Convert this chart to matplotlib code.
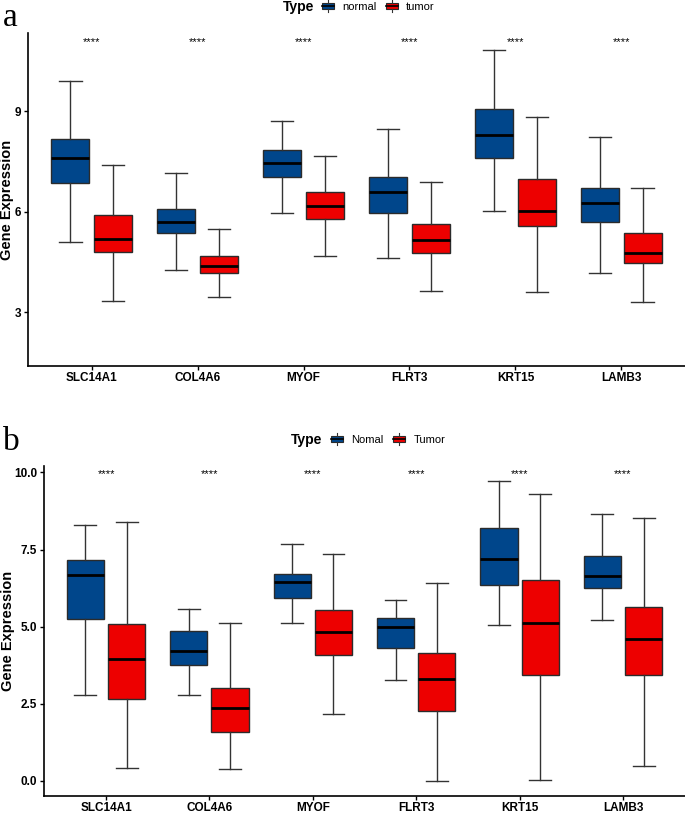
import matplotlib
matplotlib.use("Agg")
import matplotlib.pyplot as plt
from matplotlib.legend_handler import HandlerBase
from matplotlib.patches import Rectangle, Patch
from matplotlib.lines import Line2D

plt.rcParams['font.family'] = ['Liberation Sans', 'DejaVu Sans']

genes = ["SLC14A1", "COL4A6", "MYOF", "FLRT3", "KRT15", "LAMB3"]
blue = "#00468B"
red = "#ED0000"

# panel a: whislo, q1, median, q3, whishi
a_normal = [
    [5.08, 6.86, 7.59, 8.16, 9.90],
    [4.25, 5.35, 5.69, 6.07, 7.14],
    [5.96, 7.04, 7.45, 7.84, 8.70],
    [4.62, 5.96, 6.58, 7.02, 8.46],
    [6.01, 7.61, 8.30, 9.05, 10.81],
    [4.16, 5.68, 6.26, 6.69, 8.22],
]
a_tumor = [
    [3.34, 4.78, 5.19, 5.90, 7.38],
    [3.46, 4.17, 4.38, 4.68, 5.47],
    [4.66, 5.79, 6.16, 6.58, 7.67],
    [3.63, 4.76, 5.16, 5.64, 6.89],
    [3.60, 5.58, 6.01, 6.97, 8.81],
    [3.29, 4.47, 4.76, 5.37, 6.69],
]
# panel b
b_normal = [
    [2.78, 5.25, 6.66, 7.17, 8.31],
    [2.77, 3.75, 4.20, 4.86, 5.58],
    [5.13, 5.93, 6.44, 6.69, 7.69],
    [3.25, 4.30, 4.97, 5.28, 5.87],
    [5.05, 6.34, 7.18, 8.21, 9.73],
    [5.22, 6.24, 6.64, 7.29, 8.64],
]
b_tumor = [
    [0.40, 2.64, 3.96, 5.07, 8.38],
    [0.37, 1.58, 2.36, 3.00, 5.13],
    [2.16, 4.06, 4.83, 5.53, 7.35],
    [0.00, 2.25, 3.30, 4.14, 6.40],
    [0.01, 3.44, 5.11, 6.50, 9.30],
    [0.48, 3.42, 4.61, 5.64, 8.51],
]
a_star_y = 11.06
b_star_y = 9.94
a_ylim = (1.39, 11.33)
b_ylim = (-0.50, 10.21)
a_yticks = [3, 6, 9]
b_yticks = [0.0, 2.5, 5.0, 7.5, 10.0]
a_labels = ["normal", "tumor"]
b_labels = ["Nomal", "Tumor"]


def to_stats(rows):
    return [dict(whislo=r[0], q1=r[1], med=r[2], q3=r[3], whishi=r[4], fliers=[]) for r in rows]


def draw_boxes(ax, rows, offset, color):
    pos = [i + 1 + offset for i in range(len(rows))]
    ax.bxp(to_stats(rows), positions=pos, widths=0.36, capwidths=0.21,
           patch_artist=True, showfliers=False,
           boxprops=dict(facecolor=color, edgecolor="#2b2b2b", linewidth=1.0),
           medianprops=dict(color="black", linewidth=2.0),
           whiskerprops=dict(color="#333333", linewidth=1.0),
           capprops=dict(color="#333333", linewidth=1.0))


class BoxKey(HandlerBase):
    # little boxplot glyph like ggplot's legend key
    def create_artists(self, legend, orig_handle, xdescent, ydescent, width, height, fontsize, trans):
        c = orig_handle.get_facecolor()
        cx = width / 2 - xdescent
        r = Rectangle((-xdescent, -ydescent + height * 0.12), width, height * 0.76,
                      facecolor=c, edgecolor="#2b2b2b", lw=0.8, transform=trans)
        med = Line2D([-xdescent, width - xdescent], [height / 2 - ydescent] * 2,
                     color="black", lw=1.2, transform=trans)
        w1 = Line2D([cx, cx], [-ydescent - height * 0.2, -ydescent + height * 0.12],
                    color="#333333", lw=0.8, transform=trans)
        w2 = Line2D([cx, cx], [-ydescent + height * 0.88, -ydescent + height * 1.2],
                    color="#333333", lw=0.8, transform=trans)
        return [r, med, w1, w2]


def panel(fig, rect, normal, tumor, star_y, ylim, yticks, fmt):
    ax = fig.add_axes(rect)
    draw_boxes(ax, normal, -0.2, blue)
    draw_boxes(ax, tumor, 0.2, red)
    ax.set_xlim(0.4, len(genes) + 0.6)
    ax.set_ylim(*ylim)
    ax.set_xticks(range(1, len(genes) + 1))
    ax.set_xticklabels(genes, fontweight="bold", fontsize=8.5)
    ax.set_yticks(yticks)
    ax.set_yticklabels([fmt.format(v) for v in yticks], fontweight="bold", fontsize=8.5)
    for i in range(len(genes)):
        ax.text(i + 1, star_y, "****", ha="center", va="center", fontsize=8)
    ax.set_ylabel("Gene Expression", fontweight="bold", fontsize=10.5)
    for s in ["top", "right"]:
        ax.spines[s].set_visible(False)
    for s in ["left", "bottom"]:
        ax.spines[s].set_linewidth(1.2)
    ax.tick_params(axis="y", length=3, width=1, pad=2)
    ax.tick_params(axis="x", length=3, width=1, pad=1)
    return ax


fig = plt.figure(figsize=(6.85, 8.13), dpi=100)

ax_a = panel(fig, [28 / 685, 1 - 366 / 813, 657 / 685, 333 / 813],
             a_normal, a_tumor, a_star_y, a_ylim, a_yticks, "{:.0f}")
ax_a.yaxis.set_label_coords(-0.021, 0.5)
ax_b = panel(fig, [44 / 685, 1 - 796 / 813, 641 / 685, 330 / 813],
             b_normal, b_tumor, b_star_y, b_ylim, b_yticks, "{:.1f}")
ax_b.yaxis.set_label_coords(-0.045, 0.5)

fig.text(3 / 685, 1 - 18 / 813, "a", family="Liberation Serif", fontsize=24, va="center")
fig.text(3 / 685, 1 - 442 / 813, "b", family="Liberation Serif", fontsize=24, va="center")

for labels, tx, ty, lx in [(a_labels, 283, 7, 322), (b_labels, 291, 440, 331)]:
    fig.text(tx / 685, 1 - ty / 813, "Type", fontweight="bold", fontsize=10, va="center")
    handles = [Patch(facecolor=blue), Patch(facecolor=red)]
    fig.legend(handles, labels, handler_map={Patch: BoxKey()}, ncol=2, frameon=False,
               loc="center left", bbox_to_anchor=(lx / 685, 1 - ty / 813),
               fontsize=8, handlelength=1.1, handleheight=0.8, handletextpad=0.7,
               columnspacing=0.9, borderpad=0, borderaxespad=0)

fig.savefig("out.png", dpi=100)
